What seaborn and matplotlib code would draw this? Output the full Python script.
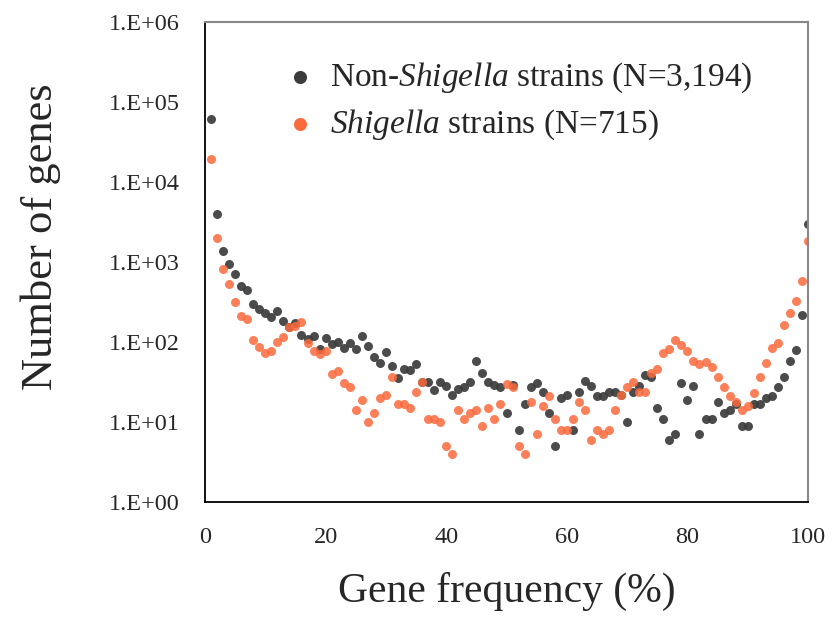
import matplotlib
matplotlib.use("Agg")
import matplotlib.pyplot as plt
import numpy as np
import pandas as pd
import seaborn as sns

sns.set_style("white")
plt.rcParams['font.family'] = ['Liberation Serif', 'DejaVu Serif']
plt.rcParams['mathtext.fontset'] = 'custom'
plt.rcParams['mathtext.rm'] = 'Liberation Serif'
plt.rcParams['mathtext.it'] = 'Liberation Serif:italic'

#=======================================================================
#                                  Data
#=======================================================================
freq = list(range(1, 101))

non_shigella = [61000, 4000, 1370, 940, 710, 500, 450, 300, 260, 230,
                205, 245, 182, 155, 172, 124, 109, 119, 82, 112,
                94, 100, 84, 97, 82, 119, 89, 65, 55, 75,
                50, 35, 46, 45, 53, 32, 32, 25, 32, 28,
                22, 26, 27, 32, 58, 41, 32, 29, 27, 13,
                29, 8, 17, 27, 31, 24, 13, 5, 20, 22,
                8, 24, 33, 28, 21, 21, 24, 24, 22, 10,
                24, 28, 39, 36, 15, 11, 6, 7, 31, 19,
                28, 7, 11, 11, 18, 13, 14, 17, 9, 9,
                17, 17, 20, 21, 27, 36, 58, 79, 218, 3000]

shigella = [19500, 2000, 820, 530, 316, 211, 194, 106, 87, 73,
            77, 100, 115, 155, 158, 178, 97, 77, 71, 77,
            40, 43, 31, 27, 14, 19, 10, 13, 20, 22,
            36, 17, 17, 15, 24, 32, 11, 11, 10, 5,
            4, 14, 11, 13, 14, 9, 15, 11, 17, 30,
            27, 5, 4, 18, 7, 16, 21, 11, 8, 8,
            11, 18, 14, 6, 8, 7, 8, 14, 22, 27,
            32, 24, 24, 41, 46, 73, 82, 106, 91, 77,
            58, 53, 56, 49, 36, 27, 21, 18, 14, 16,
            23, 36, 55, 84, 97, 164, 230, 325, 575, 1830]

ytick_vals = [1, 10, 100, 1000, 10000, 100000, 1000000]
ytick_labels = ['1.E+00', '1.E+01', '1.E+02', '1.E+03', '1.E+04', '1.E+05', '1.E+06']
xtick_vals = [0, 20, 40, 60, 80, 100]

#=======================================================================
#                                  Plot
#=======================================================================
fig = plt.figure(figsize=(8.35, 6.19), dpi=100)
ax = fig.add_axes([0.2455, 0.189, 0.7222, 0.7755])

sns.scatterplot(x=freq, y=non_shigella, ax=ax, color='#3c3c3c', alpha=0.92,
                s=42, linewidth=0, label='Non-$\\it{Shigella}$ strains (N=3,194)')
sns.scatterplot(x=freq, y=shigella, ax=ax, color='#fb6a3c', alpha=0.85,
                s=42, linewidth=0, label='$\\it{Shigella}$ strains (N=715)')

ax.set_yscale('log')
ax.set_ylim(1, 1000000)
ax.set_xlim(0, 100)
ax.set_yticks(ytick_vals)
ax.set_yticklabels(ytick_labels)
ax.minorticks_off()
ax.set_xticks(xtick_vals)

ax.tick_params(axis='y', labelsize=17.5, length=8, width=1.2, color='k', direction='out', pad=10)
ax.tick_params(axis='x', labelsize=17.5, length=0, pad=18)

ax.set_xlabel('Gene frequency (%)', fontsize=30, labelpad=17)
ax.set_ylabel('Number of genes', fontsize=32)
ax.yaxis.set_label_coords(-0.238, 0.552)

ax.spines['left'].set_color('k')
ax.spines['bottom'].set_color('k')
ax.spines['left'].set_linewidth(1.3)
ax.spines['bottom'].set_linewidth(1.3)
ax.spines['top'].set_color('#888888')
ax.spines['right'].set_color('#888888')
ax.spines['top'].set_linewidth(1.5)
ax.spines['right'].set_linewidth(1.5)

legend = ax.legend(loc='center left', bbox_to_anchor=(0.102, 0.835), frameon=False,
                   fontsize=24, markerscale=1.45, handlelength=1.0,
                   handletextpad=0.4, labelspacing=0.4, borderpad=0)
for lh in legend.legend_handles:
    lh.set_alpha(1)

plt.savefig("out.png", dpi=100)
